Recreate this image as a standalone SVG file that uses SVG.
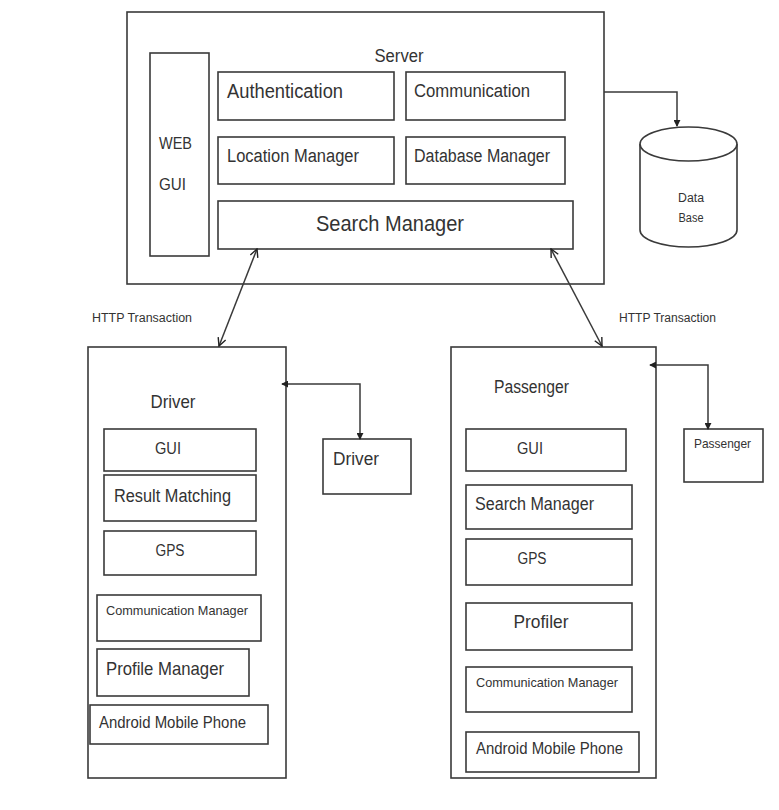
<svg xmlns="http://www.w3.org/2000/svg" width="779" height="810" viewBox="0 0 779 810">
<defs>
<style>
.b{fill:#fff;stroke:#3a3a3a;stroke-width:1.6}
.t{font-family:"Liberation Sans",Arial,sans-serif;fill:#333}
.c{fill:none;stroke:#3a3a3a;stroke-width:1.5}
</style>
<marker id="tri" viewBox="0 0 8 8" refX="7" refY="4" markerWidth="7" markerHeight="7" markerUnits="userSpaceOnUse" orient="auto-start-reverse">
<path d="M0,0 L8,4 L0,8 Z" fill="#222"/>
</marker>
<marker id="vee" viewBox="0 0 10 10" refX="9" refY="5" markerWidth="10" markerHeight="10" markerUnits="userSpaceOnUse" orient="auto-start-reverse">
<path d="M1,1 L9,5 L1,9" fill="none" stroke="#222" stroke-width="1.4"/>
</marker>
</defs>
<rect width="779" height="810" fill="#fff"/>

<g id="server">
<rect class="b" x="127" y="12" width="477" height="272"/>
<text class="t" x="399" y="62" font-size="17.5" text-anchor="middle" textLength="49" lengthAdjust="spacingAndGlyphs">Server</text>
</g>
<g id="webgui">
<rect class="b" x="150" y="53" width="59" height="203"/>
<text class="t" x="159" y="149" font-size="16" textLength="33" lengthAdjust="spacingAndGlyphs">WEB</text>
<text class="t" x="159" y="190" font-size="16.5" textLength="27" lengthAdjust="spacingAndGlyphs">GUI</text>
</g>
<g id="authentication">
<rect class="b" x="218" y="72" width="176" height="48"/>
<text class="t" x="227" y="98" font-size="19.5" textLength="116" lengthAdjust="spacingAndGlyphs">Authentication</text>
</g>
<g id="communication">
<rect class="b" x="406" y="72" width="159" height="48"/>
<text class="t" x="414" y="97" font-size="18" textLength="116" lengthAdjust="spacingAndGlyphs">Communication</text>
</g>
<g id="location-manager">
<rect class="b" x="218" y="137" width="176" height="47"/>
<text class="t" x="227" y="162" font-size="18" textLength="132" lengthAdjust="spacingAndGlyphs">Location Manager</text>
</g>
<g id="database-manager">
<rect class="b" x="406" y="137" width="159" height="47"/>
<text class="t" x="414" y="162" font-size="18" textLength="136" lengthAdjust="spacingAndGlyphs">Database Manager</text>
</g>
<g id="search-manager">
<rect class="b" x="218" y="201" width="355" height="48"/>
<text class="t" x="390" y="231" font-size="22" text-anchor="middle" textLength="148" lengthAdjust="spacingAndGlyphs">Search Manager</text>
</g>

<g id="database">
<path class="b" d="M640,144 L640,230 A48.5,17 0 0 0 737,230 L737,144"/>
<ellipse class="b" cx="688.5" cy="144" rx="48.5" ry="17"/>
<text class="t" x="691" y="202" font-size="12" text-anchor="middle" textLength="26" lengthAdjust="spacingAndGlyphs">Data</text>
<text class="t" x="691" y="222" font-size="12" text-anchor="middle" textLength="25" lengthAdjust="spacingAndGlyphs">Base</text>
</g>

<g id="driver">
<rect class="b" x="88" y="347" width="198" height="431"/>
<text class="t" x="173" y="408" font-size="18.5" text-anchor="middle" textLength="45" lengthAdjust="spacingAndGlyphs">Driver</text>
</g>
<g id="driver-gui">
<rect class="b" x="104" y="429" width="152" height="42"/>
<text class="t" x="168" y="454" font-size="16.5" text-anchor="middle" textLength="26" lengthAdjust="spacingAndGlyphs">GUI</text>
</g>
<g id="driver-result-matching">
<rect class="b" x="104" y="475" width="152" height="46"/>
<text class="t" x="114" y="502" font-size="18" textLength="117" lengthAdjust="spacingAndGlyphs">Result Matching</text>
</g>
<g id="driver-gps">
<rect class="b" x="104" y="531" width="152" height="44"/>
<text class="t" x="170" y="556" font-size="16" text-anchor="middle" textLength="29" lengthAdjust="spacingAndGlyphs">GPS</text>
</g>
<g id="driver-communication-manager">
<rect class="b" x="97" y="595" width="164" height="46"/>
<text class="t" x="106" y="615" font-size="13.5" textLength="142" lengthAdjust="spacingAndGlyphs">Communication Manager</text>
</g>
<g id="driver-profile-manager">
<rect class="b" x="97" y="649" width="152" height="47"/>
<text class="t" x="106" y="675" font-size="18.5" textLength="118" lengthAdjust="spacingAndGlyphs">Profile Manager</text>
</g>
<g id="driver-android">
<rect class="b" x="90" y="705" width="178" height="39"/>
<text class="t" x="99" y="728" font-size="16" textLength="147" lengthAdjust="spacingAndGlyphs">Android Mobile Phone</text>
</g>
<g id="driver-user">
<rect class="b" x="323" y="439" width="88" height="55"/>
<text class="t" x="333" y="465" font-size="18" textLength="46" lengthAdjust="spacingAndGlyphs">Driver</text>
</g>

<g id="passenger">
<rect class="b" x="451" y="347" width="205" height="431"/>
<text class="t" x="494" y="393" font-size="17.5" textLength="75" lengthAdjust="spacingAndGlyphs">Passenger</text>
</g>
<g id="passenger-gui">
<rect class="b" x="466" y="429" width="160" height="42"/>
<text class="t" x="530" y="454" font-size="16.5" text-anchor="middle" textLength="26" lengthAdjust="spacingAndGlyphs">GUI</text>
</g>
<g id="passenger-search-manager">
<rect class="b" x="466" y="485" width="166" height="44"/>
<text class="t" x="475" y="510" font-size="17.5" textLength="119" lengthAdjust="spacingAndGlyphs">Search Manager</text>
</g>
<g id="passenger-gps">
<rect class="b" x="466" y="539" width="166" height="46"/>
<text class="t" x="532" y="564" font-size="16" text-anchor="middle" textLength="29" lengthAdjust="spacingAndGlyphs">GPS</text>
</g>
<g id="passenger-profiler">
<rect class="b" x="466" y="603" width="166" height="47"/>
<text class="t" x="541" y="628" font-size="18.5" text-anchor="middle" textLength="55" lengthAdjust="spacingAndGlyphs">Profiler</text>
</g>
<g id="passenger-communication-manager">
<rect class="b" x="466" y="667" width="166" height="45"/>
<text class="t" x="476" y="687" font-size="13.5" textLength="142" lengthAdjust="spacingAndGlyphs">Communication Manager</text>
</g>
<g id="passenger-android">
<rect class="b" x="466" y="732" width="173" height="40"/>
<text class="t" x="476" y="754" font-size="16" textLength="147" lengthAdjust="spacingAndGlyphs">Android Mobile Phone</text>
</g>
<g id="passenger-user">
<rect class="b" x="684" y="429" width="79" height="53"/>
<text class="t" x="694" y="448" font-size="13" textLength="57" lengthAdjust="spacingAndGlyphs">Passenger</text>
</g>

<g id="connectors">
<line class="c" x1="257" y1="249" x2="219" y2="346" marker-start="url(#vee)" marker-end="url(#vee)"/>
<line class="c" x1="551" y1="249" x2="602" y2="346" marker-start="url(#vee)" marker-end="url(#vee)"/>
<polyline class="c" points="282,384 360,384 360,439" marker-start="url(#tri)" marker-end="url(#tri)"/>
<polyline class="c" points="650,365 708,365 708,429" marker-start="url(#tri)" marker-end="url(#tri)"/>
<polyline class="c" points="604,92 677,92 677,126" marker-end="url(#tri)"/>
<text class="t" x="92" y="322" font-size="12" textLength="100" lengthAdjust="spacingAndGlyphs">HTTP Transaction</text>
<text class="t" x="619" y="322" font-size="12" textLength="97" lengthAdjust="spacingAndGlyphs">HTTP Transaction</text>
</g>
</svg>
